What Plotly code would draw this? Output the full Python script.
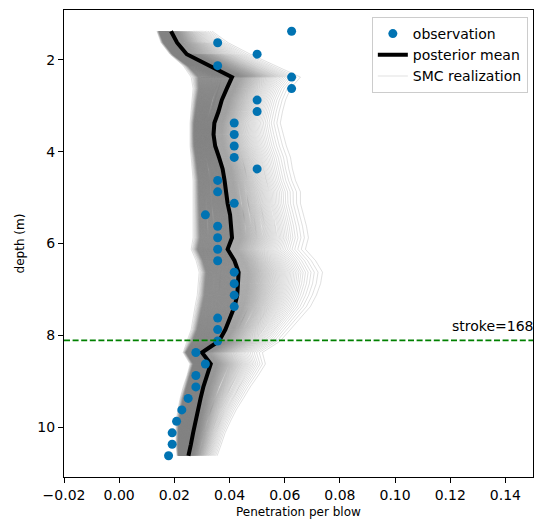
import numpy as np
import plotly.graph_objects as go

# Depth of each measurement interval (m)
depth = [1.375, 1.625, 1.875, 2.125, 2.375, 2.625, 2.875, 3.125, 3.375, 3.625,
         3.875, 4.125, 4.375, 4.625, 4.875, 5.125, 5.375, 5.625, 5.875, 6.125,
         6.375, 6.625, 6.875, 7.125, 7.375, 7.625, 7.875, 8.125, 8.375, 8.625,
         8.875, 9.125, 9.375, 9.625, 9.875, 10.125, 10.375, 10.625]

# Observed penetration per blow
observation = [0.0625, 0.0357, 0.0500, 0.0357, 0.0625, 0.0625, 0.0500, 0.0500,
               0.0417, 0.0417, 0.0417, 0.0417, 0.0500, 0.0357, 0.0357, 0.0417,
               0.03125, 0.0357, 0.0357, 0.0357, 0.0357, 0.0417, 0.0417, 0.0417,
               0.0417, 0.0357, 0.0357, 0.0357, 0.0278, 0.03125, 0.0278, 0.0278,
               0.0250, 0.0227, 0.0208, 0.0192, 0.0192, 0.0179]

# Posterior mean of the SMC ensemble
posterior_mean = [0.0188, 0.0210, 0.0245, 0.0330, 0.0409, 0.0390, 0.0372, 0.0360,
                  0.0345, 0.0342, 0.0348, 0.0362, 0.0375, 0.0382, 0.0386, 0.0393,
                  0.0402, 0.0406, 0.0409, 0.0393, 0.0418, 0.0433, 0.0432, 0.0428,
                  0.0418, 0.0403, 0.0385, 0.0362, 0.0300, 0.0332, 0.0318, 0.0305,
                  0.0295, 0.0285, 0.0276, 0.0268, 0.0260, 0.0251]

# Lower / upper envelope of the SMC realizations
smc_lower = [0.0137, 0.0152, 0.0184, 0.0232, 0.0261, 0.0268, 0.0264, 0.0261,
             0.0257, 0.0257, 0.0257, 0.0261, 0.0264, 0.0268, 0.0268, 0.0268,
             0.0268, 0.0268, 0.0268, 0.0261, 0.0279, 0.0290, 0.0286, 0.0283,
             0.0275, 0.0268, 0.0261, 0.0246, 0.0232, 0.0257, 0.0246, 0.0232,
             0.0221, 0.0213, 0.0206, 0.0206, 0.0206, 0.0210]
smc_upper = [0.0337, 0.0395, 0.0475, 0.0566, 0.0657, 0.0621, 0.0603, 0.0592,
             0.0584, 0.0595, 0.0606, 0.0621, 0.0628, 0.0639, 0.0657, 0.0657,
             0.0668, 0.0679, 0.0686, 0.0675, 0.0712, 0.0737, 0.0730, 0.0715,
             0.0693, 0.0657, 0.0621, 0.0584, 0.0519, 0.0530, 0.0504, 0.0475,
             0.0450, 0.0424, 0.0403, 0.0384, 0.0370, 0.0355]

stroke_depth = 8.11
stroke_label = "stroke=168"

FONT = "DejaVu Sans"
mean = np.array(posterior_mean)
lo = np.array(smc_lower)
hi = np.array(smc_upper)

fig = go.Figure()

# Ensemble members placed between the envelopes (-1 = lower, 0 = mean, 1 = upper).
# Spacing follows a density that is flat over the core and tails off smoothly
# towards both envelopes, so the band is dark near the mean and sparse outside.
grid = np.linspace(-1.0, 1.0, 2001)
density = np.ones_like(grid)
right = grid > 0.12
left = grid < -0.82
density[right] = np.exp(-(grid[right] - 0.12) / 0.3)
density[left] = np.exp(-(-0.82 - grid[left]) / 0.07)
cdf = np.cumsum(density)
cdf = (cdf - cdf[0]) / (cdf[-1] - cdf[0])
n_members = 420
levels = np.interp(np.linspace(0.0, 1.0, n_members), cdf, grid)

smc_color = "rgba(128,128,128,0.28)"
first = True
for t in levels:
    if t < 0:
        xs = mean + t * (mean - lo)
    else:
        xs = mean + t * (hi - mean)
    fig.add_trace(go.Scatter(
        x=xs, y=depth, mode="lines",
        line=dict(color=smc_color, width=0.9),
        name="SMC realization", legendgroup="smc",
        showlegend=first, legendrank=3, hoverinfo="skip"))
    first = False

fig.add_trace(go.Scatter(
    x=posterior_mean, y=depth, mode="lines",
    line=dict(color="black", width=4),
    name="posterior mean", legendrank=2))

fig.add_trace(go.Scatter(
    x=observation, y=depth, mode="markers",
    marker=dict(color="#0173b2", size=9),
    name="observation", legendrank=1))

# Stroke marker line
fig.add_shape(type="line", xref="paper", x0=0, x1=1, yref="y",
              y0=stroke_depth, y1=stroke_depth,
              line=dict(color="green", width=1.6, dash="6px,2.6px"))
fig.add_annotation(x=0.12, y=stroke_depth, xref="x", yref="y",
                   text=stroke_label, showarrow=False,
                   xanchor="left", yanchor="bottom", yshift=4,
                   font=dict(family=FONT, size=14, color="black"))

# Axis titles
fig.add_annotation(x=0.5, y=-0.075, xref="paper", yref="paper",
                   text="Penetration per blow", showarrow=False,
                   xanchor="center", yanchor="middle",
                   font=dict(family=FONT, size=12, color="black"))
fig.add_annotation(x=-0.094, y=0.5, xref="paper", yref="paper",
                   text="depth (m)", showarrow=False, textangle=-90,
                   xanchor="center", yanchor="middle",
                   font=dict(family=FONT, size=12, color="black"))

axis_common = dict(showgrid=False, zeroline=False, showline=True, mirror=True,
                   linecolor="black", linewidth=1, ticks="outside", ticklen=5,
                   tickcolor="black", tickwidth=1,
                   tickfont=dict(family=FONT, size=14, color="black"))

fig.update_xaxes(range=[-0.02, 0.15], tick0=0, dtick=0.02, tickformat=".2f",
                 **axis_common)
fig.update_yaxes(range=[11.0875, 0.9125], tick0=0, dtick=2, **axis_common)

fig.update_layout(
    width=544, height=524,
    margin=dict(l=64, r=11, t=10, b=47),
    plot_bgcolor="white", paper_bgcolor="white",
    font=dict(family=FONT, size=14, color="black"),
    legend=dict(x=0.989, y=0.985, xanchor="right", yanchor="top",
                bgcolor="white", bordercolor="#cccccc", borderwidth=1,
                font=dict(family=FONT, size=14, color="black"),
                tracegroupgap=0),
)

fig.write_html("out.html")
